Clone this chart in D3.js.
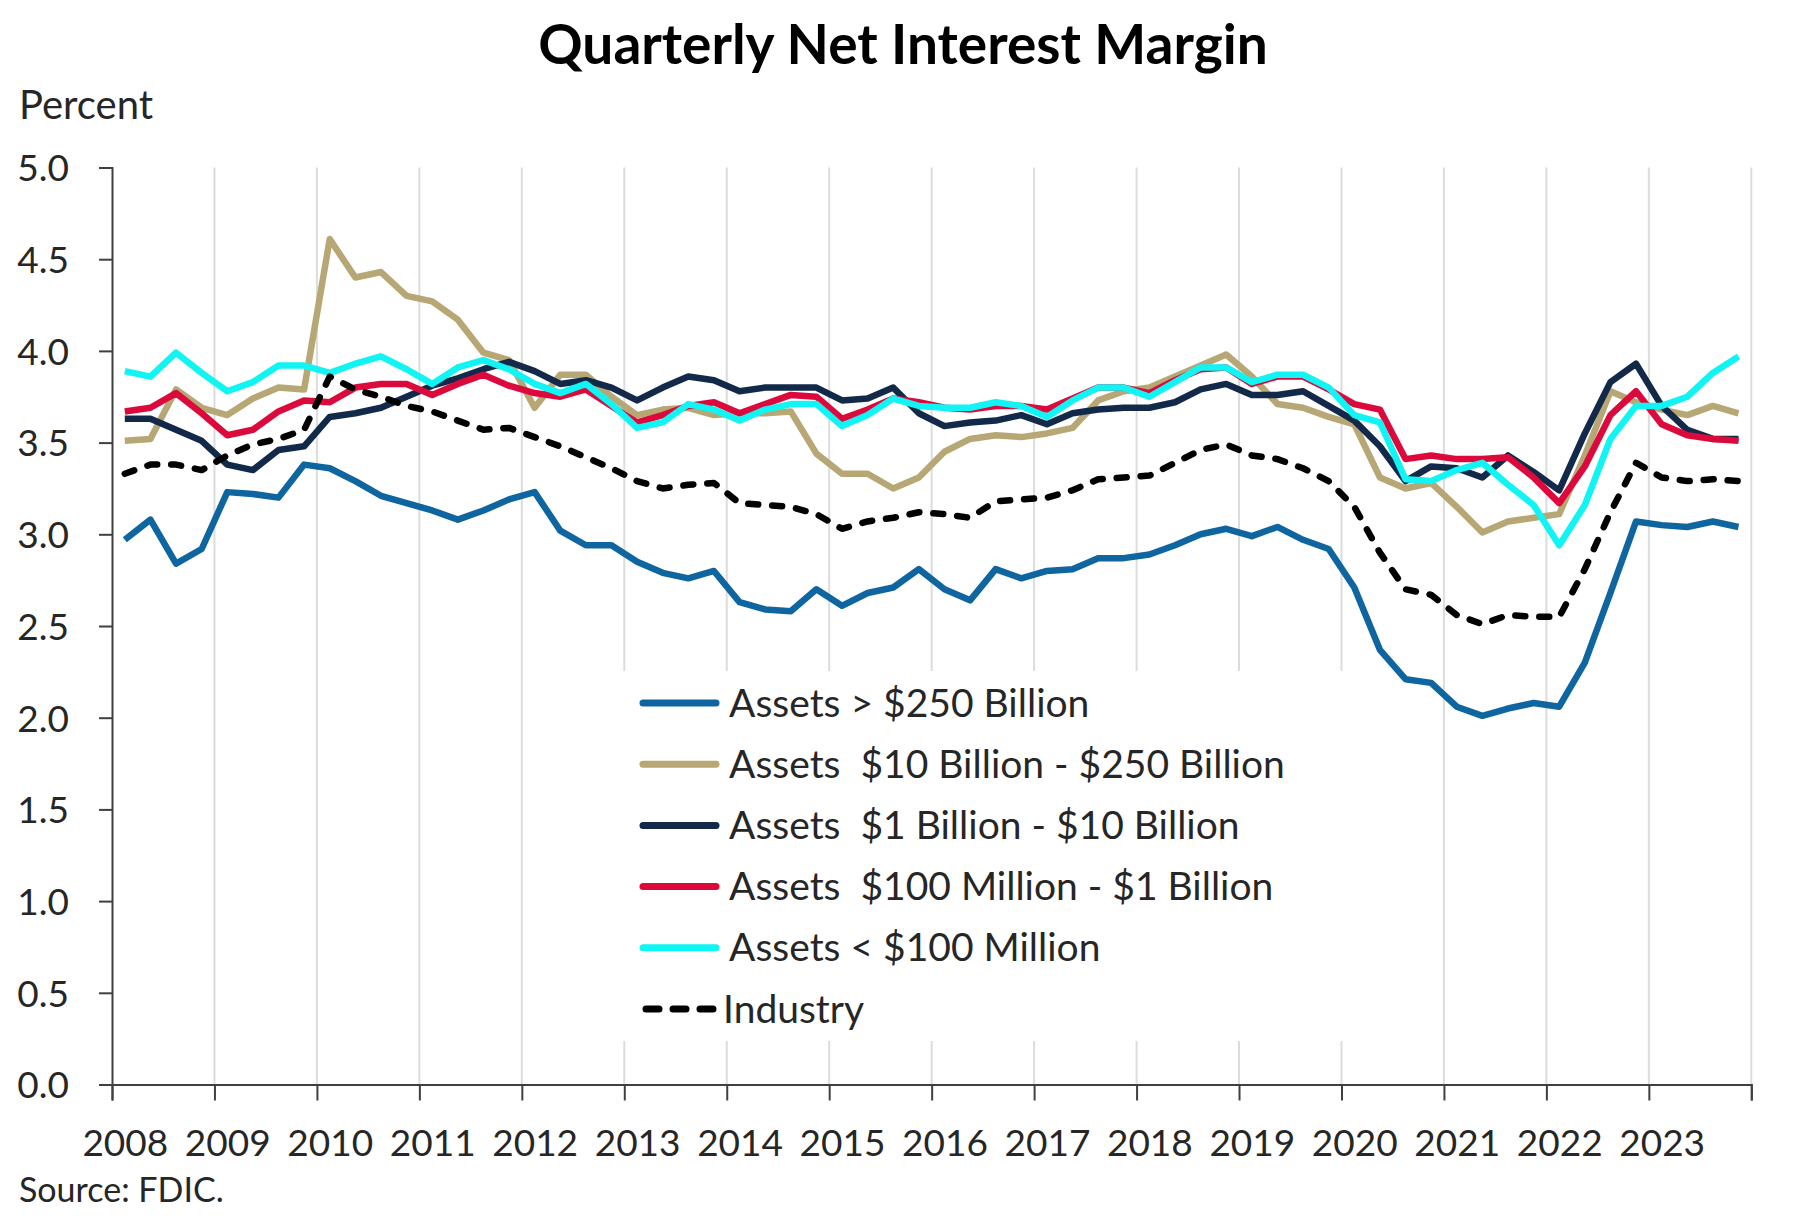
<!DOCTYPE html>
<html>
<head>
<meta charset="utf-8">
<script src="https://cdn.jsdelivr.net/npm/d3@7"></script>
<style>
  body { margin: 0; background: #ffffff; }
  text { font-family: Lato, "Open Sans", sans-serif; fill: #262626; }
</style>
</head>
<body>
<script>
// year tick labels and quarterly categories (2008Q1 .. 2023Q4)
var years = [2008, 2009, 2010, 2011, 2012, 2013, 2014, 2015, 2016, 2017, 2018, 2019, 2020, 2021, 2022, 2023];
var quarters = [];
years.forEach(function (y) { ['Q1', 'Q2', 'Q3', 'Q4'].forEach(function (q) { quarters.push(y + q); }); });

var yTicks = [0, 0.5, 1, 1.5, 2, 2.5, 3, 3.5, 4, 4.5, 5];

// series values (percent)
var over250B = [2.97, 3.08, 2.84, 2.92, 3.23, 3.22, 3.20, 3.38, 3.36, 3.29, 3.21, 3.17, 3.13, 3.08, 3.13, 3.19,
                3.23, 3.02, 2.94, 2.94, 2.85, 2.79, 2.76, 2.80, 2.63, 2.59, 2.58, 2.70, 2.61, 2.68, 2.71, 2.81,
                2.70, 2.64, 2.81, 2.76, 2.80, 2.81, 2.87, 2.87, 2.89, 2.94, 3.00, 3.03, 2.99, 3.04, 2.97, 2.92,
                2.71, 2.37, 2.21, 2.19, 2.06, 2.01, 2.05, 2.08, 2.06, 2.30, 2.68, 3.07, 3.05, 3.04, 3.07, 3.04];
var b10to250 = [3.51, 3.52, 3.79, 3.69, 3.65, 3.74, 3.80, 3.79, 4.61, 4.40, 4.43, 4.30, 4.27, 4.17, 3.99, 3.95,
                3.69, 3.87, 3.87, 3.75, 3.65, 3.68, 3.69, 3.65, 3.66, 3.66, 3.67, 3.44, 3.33, 3.33, 3.25, 3.31,
                3.45, 3.52, 3.54, 3.53, 3.55, 3.58, 3.73, 3.78, 3.80, 3.86, 3.92, 3.98, 3.86, 3.71, 3.69, 3.64,
                3.60, 3.31, 3.25, 3.28, 3.15, 3.01, 3.07, 3.09, 3.11, 3.43, 3.78, 3.72, 3.68, 3.65, 3.70, 3.66];
var b1to10 = [3.63, 3.63, 3.57, 3.51, 3.38, 3.35, 3.46, 3.48, 3.64, 3.66, 3.69, 3.75, 3.81, 3.85, 3.90, 3.94,
              3.89, 3.82, 3.84, 3.80, 3.73, 3.80, 3.86, 3.84, 3.78, 3.80, 3.80, 3.80, 3.73, 3.74, 3.80, 3.66,
              3.59, 3.61, 3.62, 3.65, 3.60, 3.66, 3.68, 3.69, 3.69, 3.72, 3.79, 3.82, 3.76, 3.76, 3.78, 3.70,
              3.62, 3.48, 3.29, 3.37, 3.36, 3.31, 3.43, 3.34, 3.24, 3.55, 3.83, 3.93, 3.70, 3.57, 3.52, 3.52];
var m100to1B = [3.67, 3.69, 3.77, 3.66, 3.54, 3.57, 3.67, 3.73, 3.72, 3.80, 3.82, 3.82, 3.76, 3.82, 3.87, 3.81,
                3.77, 3.75, 3.79, 3.70, 3.61, 3.65, 3.70, 3.72, 3.66, 3.71, 3.76, 3.75, 3.63, 3.68, 3.74, 3.72,
                3.69, 3.68, 3.70, 3.70, 3.68, 3.74, 3.80, 3.80, 3.77, 3.84, 3.90, 3.91, 3.82, 3.86, 3.86, 3.79,
                3.71, 3.68, 3.41, 3.43, 3.41, 3.41, 3.42, 3.31, 3.17, 3.37, 3.65, 3.78, 3.60, 3.54, 3.52, 3.51];
var under100M = [3.89, 3.86, 3.99, 3.88, 3.78, 3.83, 3.92, 3.92, 3.88, 3.93, 3.97, 3.90, 3.82, 3.91, 3.95, 3.90,
                 3.82, 3.77, 3.82, 3.71, 3.58, 3.61, 3.71, 3.68, 3.62, 3.68, 3.71, 3.71, 3.59, 3.65, 3.74, 3.70,
                 3.69, 3.69, 3.72, 3.70, 3.64, 3.73, 3.80, 3.80, 3.75, 3.83, 3.91, 3.91, 3.83, 3.87, 3.87, 3.80,
                 3.65, 3.61, 3.30, 3.29, 3.35, 3.39, 3.27, 3.16, 2.94, 3.16, 3.52, 3.70, 3.70, 3.75, 3.88, 3.97];
var industry = [3.33, 3.38, 3.38, 3.35, 3.43, 3.49, 3.52, 3.57, 3.86, 3.79, 3.75, 3.70, 3.67, 3.62, 3.57, 3.58,
                3.53, 3.48, 3.42, 3.36, 3.29, 3.25, 3.27, 3.28, 3.17, 3.16, 3.15, 3.11, 3.03, 3.07, 3.09, 3.12,
                3.11, 3.09, 3.18, 3.19, 3.20, 3.24, 3.30, 3.31, 3.32, 3.39, 3.46, 3.49, 3.43, 3.41, 3.36, 3.29,
                3.15, 2.90, 2.70, 2.67, 2.56, 2.51, 2.56, 2.55, 2.55, 2.81, 3.12, 3.39, 3.31, 3.29, 3.30, 3.29];

var seriesNames = ['Assets > $250 Billion', 'Assets  $10 Billion - $250 Billion', 'Assets  $1 Billion - $10 Billion',
                   'Assets  $100 Million - $1 Billion', 'Assets < $100 Million', 'Industry'];
var seriesValues = [over250B, b10to250, b1to10, m100to1B, under100M, industry];
var seriesColors = ['#0e65a0', '#b6a774', '#12294a', '#dc0a3c', '#10f4f4', '#000000'];

// dimensions of the plot area
var margin = {top: 167.5, right: 48.7, bottom: 138.5, left: 112},
    fullWidth = 1800, fullHeight = 1223,
    width = fullWidth - margin.left - margin.right,
    height = fullHeight - margin.top - margin.bottom;

var svg = d3.select('body').append('svg')
    .attr('width', fullWidth)
    .attr('height', fullHeight);

var g = svg.append('g')
    .attr('transform', 'translate(' + margin.left + ',' + margin.top + ')');

// scales
var x = d3.scaleBand().domain(quarters).range([0, width]).padding(0);
var xYear = d3.scaleLinear().domain([2008, 2024]).range([0, width]);
var y = d3.scaleLinear().domain([0, 5]).range([height, 0]);
var half = x.bandwidth() / 2;

// vertical gridlines at year boundaries
g.append('g')
    .selectAll('line')
    .data(d3.range(2009, 2025))
    .enter()
    .append('line')
    .attr('x1', function (d) { return xYear(d); })
    .attr('x2', function (d) { return xYear(d); })
    .attr('y1', 0)
    .attr('y2', height)
    .attr('stroke', '#dcdcdc')
    .attr('stroke-width', 2);

// legend background hides the gridlines behind it
var legendBox = {x: 560, y: 671, w: 808, h: 370};
svg.append('rect')
    .attr('x', legendBox.x)
    .attr('y', legendBox.y)
    .attr('width', legendBox.w)
    .attr('height', legendBox.h)
    .attr('fill', '#ffffff');

// Y axis
var yAxis = g.append('g')
    .call(d3.axisLeft(y).tickValues(yTicks).tickSize(13).tickPadding(30)
        .tickFormat(d3.format('.1f')));
yAxis.selectAll('text').style('font-size', '37px').attr('dy', '0.36em');

// X axis
var xAxis = g.append('g')
    .attr('transform', 'translate(0,' + height + ')')
    .call(d3.axisBottom(xYear).tickValues(d3.range(2008, 2025)).tickSize(16).tickPadding(29)
        .tickFormat(function (d) { return d < 2024 ? d : ''; }));
xAxis.selectAll('text').style('font-size', '37px').attr('dx', half).attr('dy', '0.72em');

svg.selectAll('.domain, .tick line')
    .attr('stroke', '#404040')
    .attr('stroke-width', 2);

// lines
var line = d3.line()
    .x(function (d, i) { return x(quarters[i]) + half; })
    .y(function (d) { return y(d); });

for (let i = 0; i < seriesValues.length; i++) {
    g.append('path')
        .datum(seriesValues[i])
        .attr('fill', 'none')
        .attr('stroke', seriesColors[i])
        .attr('stroke-width', 6.5)
        .attr('stroke-linejoin', 'round')
        .attr('stroke-linecap', i === 5 ? 'round' : 'butt')
        .attr('stroke-dasharray', i === 5 ? '10,14' : null)
        .attr('d', line);
}

// legend
var legend = svg.selectAll('.lineLegend')
    .data(seriesNames)
    .enter()
    .append('g')
    .attr('class', 'lineLegend')
    .attr('transform', function (d, i) { return 'translate(643,' + (703 + i * 61.2) + ')'; });
legend.append('line')
    .attr('x1', function (d, i) { return i === 5 ? 3 : 0; })
    .attr('x2', function (d, i) { return i === 5 ? 70 : 73; })
    .attr('stroke', function (d, i) { return seriesColors[i]; })
    .attr('stroke-width', 7)
    .attr('stroke-linecap', 'round')
    .attr('stroke-dasharray', function (d, i) { return i === 5 ? '13,14' : null; });
legend.append('text')
    .attr('x', function (d, i) { return i === 5 ? 80 : 86; })
    .attr('dy', '0.35em')
    .style('font-size', '39px')
    .style('white-space', 'pre')
    .text(function (d) { return d; });

// title, unit and source
svg.append('text')
    .attr('x', 903)
    .attr('y', 64)
    .attr('text-anchor', 'middle')
    .style('font-size', '55px')
    .style('font-weight', 'bold')
    .style('fill', '#000000')
    .text('Quarterly Net Interest Margin');

svg.append('text')
    .attr('x', 19)
    .attr('y', 119)
    .style('font-size', '40px')
    .text('Percent');

svg.append('text')
    .attr('x', 19)
    .attr('y', 1202)
    .style('font-size', '34px')
    .text('Source: FDIC.');
</script>
</body>
</html>
